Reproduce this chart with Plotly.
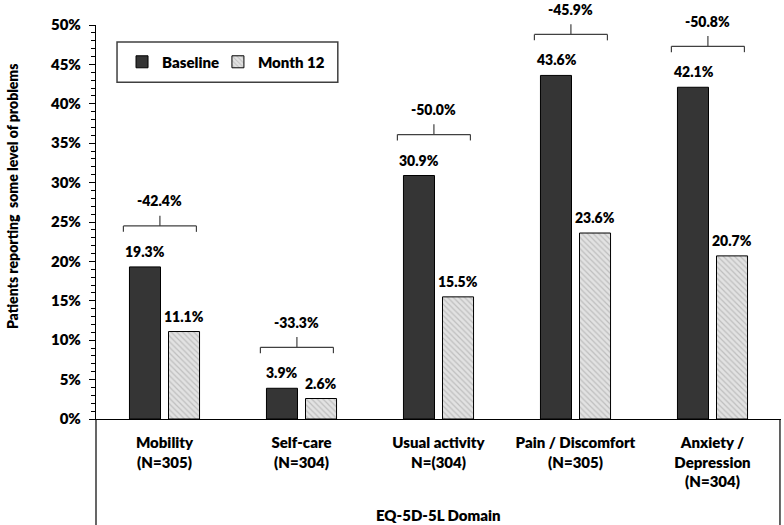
import plotly.graph_objects as go

# ---- data ----
domains = ["Mobility", "Self-care", "Usual activity", "Pain / Discomfort", "Anxiety /<br>Depression"]
n_labels = ["(N=305)", "(N=304)", "N=(304)", "(N=305)", "(N=304)"]
baseline = [19.3, 3.9, 30.9, 43.6, 42.1]
month12 = [11.1, 2.6, 15.5, 23.6, 20.7]
change_labels = ["-42.4%", "-33.3%", "-50.0%", "-45.9%", "-50.8%"]
y_ticks = [0, 5, 10, 15, 20, 25, 30, 35, 40, 45, 50]
y_tick_labels = [f"{v}%" for v in y_ticks]

FONT = "Lato, 'Open Sans', sans-serif"
W = 800
Y_MAX = 50
cats = [f"{d}<br>{n}" for d, n in zip(domains, n_labels)]
idx = list(range(len(cats)))

fig = go.Figure()
fig.add_trace(go.Bar(
    name="Baseline", x=idx, y=baseline, legend="legend",
    marker=dict(color="#353535", line=dict(color="#000000", width=1)),
))
fig.add_trace(go.Bar(
    name="Month 12", x=idx, y=month12, legend="legend2",
    marker=dict(color="#dcdcdc", line=dict(color="#000000", width=1),
                pattern=dict(shape="\\", fgcolor="#9a9a9a", bgcolor="#e2e2e2",
                             size=4, solidity=0.3)),
))

lab_font = dict(size=14, color="#000", family=FONT, weight=W)
annotations = []
shapes = []
for i, (b, m, c) in enumerate(zip(baseline, month12, change_labels)):
    annotations.append(dict(x=i, y=b, xref="x", yref="y", text=f"{b:.1f}%",
                            showarrow=False, yanchor="bottom", xshift=-19.5, yshift=5,
                            font=lab_font))
    annotations.append(dict(x=i, y=m, xref="x", yref="y", text=f"{m:.1f}%",
                            showarrow=False, yanchor="bottom", xshift=19.5, yshift=5,
                            font=lab_font))
    x0, x1 = i - 0.30, i + 0.233
    xm = (x0 + x1) / 2
    y_line = (b + 5.2) / Y_MAX
    y_end = (b + 4.45) / Y_MAX
    y_tick = (b + 6.5) / Y_MAX
    lc = dict(color="#404040", width=1.2)
    shapes += [
        dict(type="line", xref="x", yref="paper", x0=x0, x1=x1, y0=y_line, y1=y_line, line=lc),
        dict(type="line", xref="x", yref="paper", x0=x0, x1=x0, y0=y_end, y1=y_line, line=lc),
        dict(type="line", xref="x", yref="paper", x0=x1, x1=x1, y0=y_end, y1=y_line, line=lc),
        dict(type="line", xref="x", yref="paper", x0=xm, x1=xm, y0=y_line, y1=y_tick, line=lc),
    ]
    annotations.append(dict(x=xm, y=(b + 8.4) / Y_MAX, xref="x", yref="paper",
                            text=c, showarrow=False, yanchor="middle", xanchor="center",
                            font=lab_font))

shapes += [
    dict(type="line", xref="paper", yref="paper", x0=0, x1=0, y0=-0.27, y1=0,
         line=dict(color="#000", width=1.2)),
    dict(type="line", xref="paper", yref="paper", x0=0.9985, x1=0.9985, y0=-0.27, y1=0,
         line=dict(color="#000", width=1.2)),
    dict(type="rect", xref="paper", yref="paper", x0=0.0307, x1=0.353, y0=0.855, y1=0.957,
         line=dict(color="#404040", width=1.5), fillcolor="white", layer="below"),
]

annotations.append(dict(x=0.5, y=-0.2437, xref="paper", yref="paper",
                        text="EQ-5D-5L Domain", showarrow=False, xanchor="center",
                        yanchor="middle", font=dict(size=15, color="#000", family=FONT, weight=W)))
annotations.append(dict(x=-0.121, y=0.566, xref="paper", yref="paper",
                        text="Patients reporting  some level of problems",
                        textangle=-90, showarrow=False, xanchor="center", yanchor="middle",
                        font=dict(size=14, color="#000", family=FONT, weight=W)))

leg_common = dict(orientation="h", xanchor="left", yanchor="middle", y=0.906,
                  bgcolor="rgba(0,0,0,0)", borderwidth=0, itemwidth=30,
                  font=dict(size=15, color="#000", family=FONT, weight=W))

fig.update_layout(
    width=784, height=525,
    margin=dict(l=96, r=3, t=25, b=106),
    paper_bgcolor="white", plot_bgcolor="white",
    font=dict(family=FONT, color="#000", weight=W),
    barmode="group", bargap=0.43, bargroupgap=0.205,
    showlegend=True,
    legend=dict(x=0.038, **leg_common),
    legend2=dict(x=0.178, **leg_common),
    shapes=shapes, annotations=annotations,
)
fig.update_xaxes(
    type="linear", range=[-0.5, 4.5], tickmode="array", tickvals=idx, ticktext=cats,
    showline=True, linecolor="#000", linewidth=1.2, ticks="", showgrid=False,
    zeroline=False, tickfont=dict(size=15, color="#000", family=FONT, weight=W),
    ticklabelstandoff=10,
)
fig.update_yaxes(
    range=[0, Y_MAX], tickmode="array", tickvals=y_ticks, ticktext=y_tick_labels,
    showline=True, linecolor="#000", linewidth=1.2, ticks="outside", ticklen=6,
    tickcolor="#000", tickwidth=1, showgrid=False, zeroline=False,
    tickfont=dict(size=15, color="#000", family=FONT, weight=W), ticklabelstandoff=5,
    minor=dict(dtick=1, ticks="outside", ticklen=4, tickcolor="#000", tickwidth=1),
)

# remove the browser's default 8px body margin so the figure fills the window
fig.write_html("out.html", config={"displayModeBar": False},
               post_script="document.body.style.margin='0';document.body.style.overflow='hidden';")
